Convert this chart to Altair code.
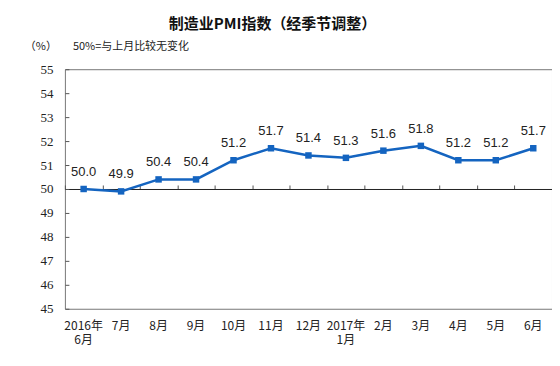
import altair as alt
import pandas as pd

months = ["2016年\n6月", "7月", "8月", "9月", "10月", "11月", "12月",
          "2017年\n1月", "2月", "3月", "4月", "5月", "6月"]
pmi = [50.0, 49.9, 50.4, 50.4, 51.2, 51.7, 51.4, 51.3, 51.6, 51.8, 51.2, 51.2, 51.7]
y_ticks = [45, 46, 47, 48, 49, 50, 51, 52, 53, 54, 55]

df = pd.DataFrame({"month": months, "pmi": pmi})
df["label"] = df["pmi"].map(lambda v: f"{v:.1f}")

W, H = 488, 240
BLUE = "#1464C0"
CJK = "Noto Sans CJK SC"

xscale = alt.Scale(domain=months, paddingInner=0, paddingOuter=0)
yscale = alt.Scale(domain=[45, 55], nice=False, zero=False)

x_main = alt.X("month:N", scale=xscale, sort=months, title=None,
               axis=alt.Axis(orient="bottom", ticks=False, domain=False, labelAngle=0,
                             labelFont=CJK, labelFontSize=12, labelColor="#222",
                             labelPadding=12, labelLineHeight=14,
                             labelExpr="split(datum.label, '\\n')"))
y_main = alt.Y("pmi:Q", scale=yscale, title=None,
               axis=alt.Axis(orient="left", values=y_ticks, ticks=False, domain=False, grid=False,
                             labelFont="Liberation Serif", labelFontSize=13, labelColor="#222",
                             labelPadding=12))

line = alt.Chart(df).mark_line(color=BLUE, strokeWidth=2.5).encode(x=x_main, y=y_main)

points = alt.Chart(df).mark_square(color=BLUE, size=42, opacity=1).encode(
    x=alt.X("month:N", scale=xscale, sort=months, axis=None),
    y=alt.Y("pmi:Q", scale=yscale, axis=None))

labels = alt.Chart(df).mark_text(dy=-13, baseline="alphabetic", font="Liberation Sans",
                                 fontSize=13, color="#222").encode(
    x=alt.X("month:N", scale=xscale, sort=months, axis=None),
    y=alt.Y("pmi:Q", scale=yscale, axis=None),
    text="label:N")

# axis layer: x axis on the 50 line with ticks at band edges, y ticks inside left frame
axes_layer = alt.Chart(df).mark_point(opacity=0).encode(
    x=alt.X("month:N", scale=xscale, sort=months, title=None,
            axis=alt.Axis(orient="top", offset=-H / 2, labels=False, tickBand="extent",
                          tickSize=4, tickColor="#555", domainColor="#222", domainWidth=1)),
    y=alt.Y("pmi:Q", scale=yscale, title=None,
            axis=alt.Axis(orient="right", offset=-W, values=y_ticks, labels=False, grid=False,
                          tickSize=4, tickColor="#555", domain=False)))

title = alt.Chart(pd.DataFrame({"t": ["制造业PMI指数（经季节调整）"]})).mark_text(
    font=CJK, fontSize=15, fontWeight="bold", color="#111", baseline="middle", align="center"
).encode(x=alt.value(208), y=alt.value(-45), text="t:N")

unit = alt.Chart(pd.DataFrame({"t": ["（%）"]})).mark_text(
    font=CJK, fontSize=11, color="#222", baseline="middle", align="right"
).encode(x=alt.value(-8), y=alt.value(-22), text="t:N")

note = alt.Chart(pd.DataFrame({"t": ["50%=与上月比较无变化"]})).mark_text(
    font=CJK, fontSize=11, color="#222", baseline="middle", align="left"
).encode(x=alt.value(8), y=alt.value(-22), text="t:N")

chart = alt.layer(axes_layer, line, points, labels, title, unit, note).properties(
    width=W, height=H,
    autosize=alt.AutoSizeParams(type="none"),
    padding={"left": 57, "top": 61, "right": 0, "bottom": 45},
).configure_view(stroke="#777", strokeWidth=1)

chart.save("out.html", embed_options={"renderer": "svg", "actions": False})
